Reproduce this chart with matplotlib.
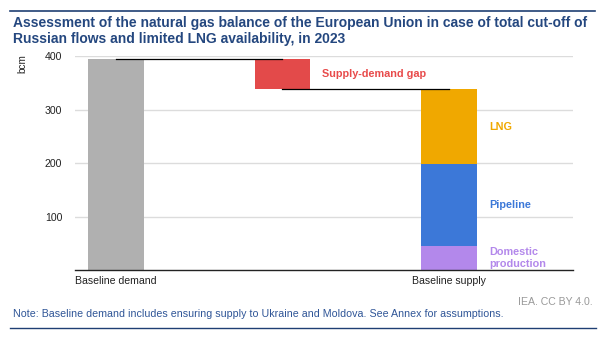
import matplotlib
matplotlib.use('Agg')
import matplotlib.pyplot as plt
from matplotlib.lines import Line2D

plt.rcParams['font.family'] = ['Liberation Sans', 'DejaVu Sans']

# bcm, 2023
categories = ['Baseline demand', '', 'Baseline supply']
demand = 395
supply_parts = ['Domestic\nproduction', 'Pipeline', 'LNG']
supply_values = [45, 153, 140]
supply_colors = ['#b388eb', '#3c78d8', '#f0a800']
gap_label = 'Supply-demand gap'
yticks = [100, 200, 300, 400]

supply_total = sum(supply_values)
gap = demand - supply_total

fig = plt.figure(figsize=(6.07, 3.42), dpi=100)
ax = fig.add_axes([0.123, 0.2105, 0.821, 0.6255])

w = 0.335
ax.bar(0, demand, width=w, color='#b0b0b0', zorder=2)
ax.bar(1, gap, bottom=supply_total, width=w, color='#e34a4a', zorder=2)
bottom = 0
for v, c in zip(supply_values, supply_colors):
    ax.bar(2, v, bottom=bottom, width=w, color=c, zorder=2)
    bottom += v

# connectors between the steps
ax.plot([0, 1], [demand, demand], color='black', lw=0.9, zorder=3)
ax.plot([1, 2], [supply_total, supply_total], color='black', lw=0.9, zorder=3)

# labels next to the segments
ax.text(1 + 0.24, supply_total + gap / 2, gap_label, color='#e84b4b',
        fontsize=7.8, fontweight='bold', va='center', ha='left')
bottom = 0
for name, v, c in zip(supply_parts, supply_values, supply_colors):
    ax.text(2 + 0.24, bottom + v / 2, name, color=c, fontsize=7.8,
            fontweight='bold', va='center', ha='left', linespacing=1.35)
    bottom += v

ax.set_xlim(-0.248, 2.745)
ax.set_ylim(0, 400)
ax.set_yticks(yticks)
ax.set_xticks([0, 1, 2])
ax.set_xticklabels(categories)
ax.tick_params(axis='both', length=0, labelsize=7.6, colors='#222222')
ax.tick_params(axis='x', pad=4)
ax.tick_params(axis='y', pad=9)
ax.yaxis.grid(True, color='#dcdcdc', lw=1, zorder=0)
for s in ['top', 'right', 'left']:
    ax.spines[s].set_visible(False)
ax.spines['bottom'].set_color('#222222')
ax.spines['bottom'].set_linewidth(1)
ax.spines['bottom'].set_zorder(4)

fig.text(22.5 / 607, 1 - 64 / 342, 'bcm', rotation=90, fontsize=7.2,
         color='#222222', ha='center', va='center')

# title block and frame lines
navy = '#1f3f73'
fig.add_artist(Line2D([10 / 607, 595 / 607], [1 - 10.7 / 342] * 2, color=navy, lw=1.2))
fig.add_artist(Line2D([10 / 607, 596 / 607], [1 - 327.7 / 342] * 2, color=navy, lw=1.0))
fig.text(13 / 607, 1 - 31.2 / 342,
         'Assessment of the natural gas balance of the European Union in case of total cut-off of\n'
         'Russian flows and limited LNG availability, in 2023',
         fontsize=10, fontweight='bold', color='#24477f', ha='left', va='center',
         linespacing=1.13)
fig.text(593 / 607, 1 - 301.7 / 342, 'IEA. CC BY 4.0.', fontsize=7.6,
         color='#999999', ha='right', va='center')
fig.text(13 / 607, 1 - 314 / 342,
         'Note: Baseline demand includes ensuring supply to Ukraine and Moldova. See Annex for assumptions.',
         fontsize=7.65, color='#2f5597', ha='left', va='center')

fig.savefig('out.png', dpi=100)
